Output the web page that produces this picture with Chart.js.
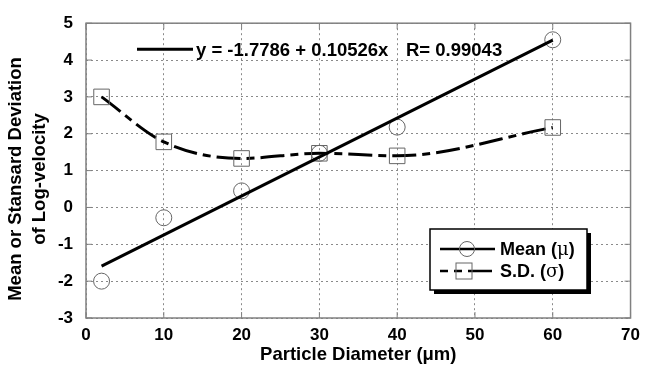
<!DOCTYPE html>
<html>
<head>
<meta charset="utf-8">
<script src="https://cdn.jsdelivr.net/npm/chart.js@4.4.0/dist/chart.umd.min.js"></script>
<style>
  html, body { margin: 0; padding: 0; background: #fff; }
  canvas { display: block; }
</style>
</head>
<body>
<canvas id="chart" width="647" height="366"></canvas>
<script>
// values
const diameters = [2, 10, 20, 30, 40, 60];
const meanValues = [-2.0, -0.28, 0.45, 1.47, 2.18, 4.55];
const sdValues = [3.0, 1.78, 1.33, 1.47, 1.4, 2.17];
const fitX = [2, 60];
const fitY = [-1.59, 4.54];
const xTicks = [0, 10, 20, 30, 40, 50, 60, 70];
const yTicks = [-3, -2, -1, 0, 1, 2, 3, 4, 5];
const fitLabel = 'y = -1.7786 + 0.10526x';
const rLabel = 'R= 0.99043';
const legendNames = ['Mean (', 'S.D. ('];
const legendSymbols = ['μ', 'σ'];
const yTitle = ['Mean or Stansard Deviation', 'of Log-velocity'];
const xTitle = 'Particle Diameter (μm)';

const FONT = "'Liberation Sans', Arial, Helvetica, sans-serif";
const SD_DASH = [24, 6, 8, 6];

const toPoints = (xs, ys) => xs.map((x, i) => ({ x, y: ys[i] }));

const framePlugin = {
  id: 'frame',
  beforeDatasetsDraw(chart) {
    const { ctx, chartArea: a, scales } = chart;
    ctx.save();
    ctx.strokeStyle = '#808080';
    ctx.lineWidth = 1.5;
    ctx.strokeRect(a.left, a.top, a.right - a.left, a.bottom - a.top);
    ctx.lineWidth = 1;
    ctx.beginPath();
    xTicks.forEach((v) => {
      const px = scales.x.getPixelForValue(v);
      ctx.moveTo(px, a.bottom); ctx.lineTo(px, a.bottom - 6);
      ctx.moveTo(px, a.top); ctx.lineTo(px, a.top + 6);
    });
    yTicks.forEach((v) => {
      const py = scales.y.getPixelForValue(v);
      ctx.moveTo(a.left, py); ctx.lineTo(a.left + 6, py);
      ctx.moveTo(a.right, py); ctx.lineTo(a.right - 6, py);
    });
    ctx.stroke();
    ctx.restore();
  },
  afterDraw(chart) {
    const { ctx, chartArea: a } = chart;
    ctx.save();

    // y axis title, two lines
    ctx.fillStyle = '#000';
    ctx.font = `bold 18.5px ${FONT}`;
    ctx.textAlign = 'center';
    ctx.textBaseline = 'middle';
    ctx.translate(16, 179);
    ctx.rotate(-Math.PI / 2);
    ctx.fillText(yTitle[0], 0, 0);
    ctx.fillText(yTitle[1], 0, 24);
    ctx.setTransform(1, 0, 0, 1, 0, 0);

    // regression annotation
    ctx.strokeStyle = '#000';
    ctx.lineWidth = 3;
    ctx.beginPath();
    ctx.moveTo(a.left + 51, a.top + 26);
    ctx.lineTo(a.left + 107, a.top + 26);
    ctx.stroke();
    ctx.textAlign = 'left';
    ctx.fillText(fitLabel, a.left + 110, a.top + 28);
    ctx.fillText(rLabel, a.left + 320, a.top + 28);

    // legend box with shadow
    const bx = 430, by = 229, bw = 157, bh = 61;
    ctx.fillStyle = '#000';
    ctx.fillRect(bx + 4, by + 4, bw, bh);
    ctx.fillStyle = '#fff';
    ctx.fillRect(bx, by, bw, bh);
    ctx.strokeStyle = '#000';
    ctx.lineWidth = 1.5;
    ctx.strokeRect(bx, by, bw, bh);

    const rows = [by + 20, by + 42];
    // mean row
    ctx.lineWidth = 2.5;
    ctx.beginPath();
    ctx.moveTo(bx + 10, rows[0]); ctx.lineTo(bx + 65, rows[0]);
    ctx.stroke();
    ctx.strokeStyle = '#666';
    ctx.lineWidth = 1;
    ctx.beginPath();
    ctx.arc(bx + 37, rows[0], 7.5, 0, Math.PI * 2);
    ctx.stroke();
    // sd row
    ctx.strokeStyle = '#000';
    ctx.lineWidth = 2.5;
    ctx.setLineDash(SD_DASH);
    ctx.lineDashOffset = 16;
    ctx.beginPath();
    ctx.moveTo(bx + 10, rows[1]); ctx.lineTo(bx + 65, rows[1]);
    ctx.stroke();
    ctx.setLineDash([]);
    ctx.strokeStyle = '#666';
    ctx.lineWidth = 1;
    ctx.strokeRect(bx + 26, rows[1] - 8, 16, 16);

    ctx.fillStyle = '#000';
    ctx.textBaseline = 'middle';
    rows.forEach((ry, i) => {
      let tx = bx + 70;
      ctx.font = `bold 18px ${FONT}`;
      ctx.fillText(legendNames[i], tx, ry + 1);
      tx += ctx.measureText(legendNames[i]).width;
      ctx.font = `18px 'DejaVu Serif', serif`;
      ctx.fillText(legendSymbols[i], tx, ry + 1);
      tx += ctx.measureText(legendSymbols[i]).width;
      ctx.font = `bold 18px ${FONT}`;
      ctx.fillText(')', tx, ry + 1);
    });
    ctx.restore();
  }
};

new Chart(document.getElementById('chart'), {
  type: 'scatter',
  data: {
    datasets: [
      {
        label: 'fit',
        data: toPoints(fitX, fitY),
        showLine: true,
        borderColor: '#000',
        borderWidth: 3,
        pointRadius: 0
      },
      {
        label: 'S.D.',
        data: toPoints(diameters, sdValues),
        showLine: true,
        borderColor: '#000',
        borderWidth: 3,
        borderDash: SD_DASH,
        cubicInterpolationMode: 'monotone',
        pointStyle: 'rect',
        pointRadius: 11,
        pointBorderColor: '#666',
        pointBorderWidth: 1,
        pointBackgroundColor: 'rgba(0,0,0,0)'
      },
      {
        label: 'Mean',
        data: toPoints(diameters, meanValues),
        showLine: false,
        pointStyle: 'circle',
        pointRadius: 8,
        pointBorderColor: '#666',
        pointBorderWidth: 1,
        pointBackgroundColor: 'rgba(0,0,0,0)'
      }
    ]
  },
  options: {
    responsive: false,
    animation: false,
    layout: { padding: { left: 0, right: 10, top: 17, bottom: 0 } },
    plugins: { legend: { display: false }, tooltip: { enabled: false } },
    scales: {
      x: {
        type: 'linear',
        min: 0,
        max: 70,
        afterBuildTicks: (scale) => { scale.ticks = xTicks.map((v) => ({ value: v })); },
        afterFit: (scale) => { scale.height = 48; },
        grid: { color: '#8a8a8a', lineWidth: 1, drawTicks: false },
        border: { display: false, dash: [2, 3] },
        ticks: { padding: 7, color: '#000', font: { family: FONT, size: 17, weight: 'bold' } },
        title: {
          display: true,
          text: xTitle,
          color: '#000',
          padding: { top: 0, bottom: 0 },
          font: { family: FONT, size: 18.5, weight: 'bold' }
        }
      },
      y: {
        type: 'linear',
        min: -3,
        max: 5,
        afterBuildTicks: (scale) => { scale.ticks = yTicks.map((v) => ({ value: v })); },
        afterFit: (scale) => { scale.width = 86; },
        grid: { color: '#8a8a8a', lineWidth: 1, drawTicks: false },
        border: { display: false, dash: [2, 3] },
        ticks: { padding: 13, color: '#000', font: { family: FONT, size: 17, weight: 'bold' } }
      }
    }
  },
  plugins: [framePlugin]
});
</script>
</body>
</html>
